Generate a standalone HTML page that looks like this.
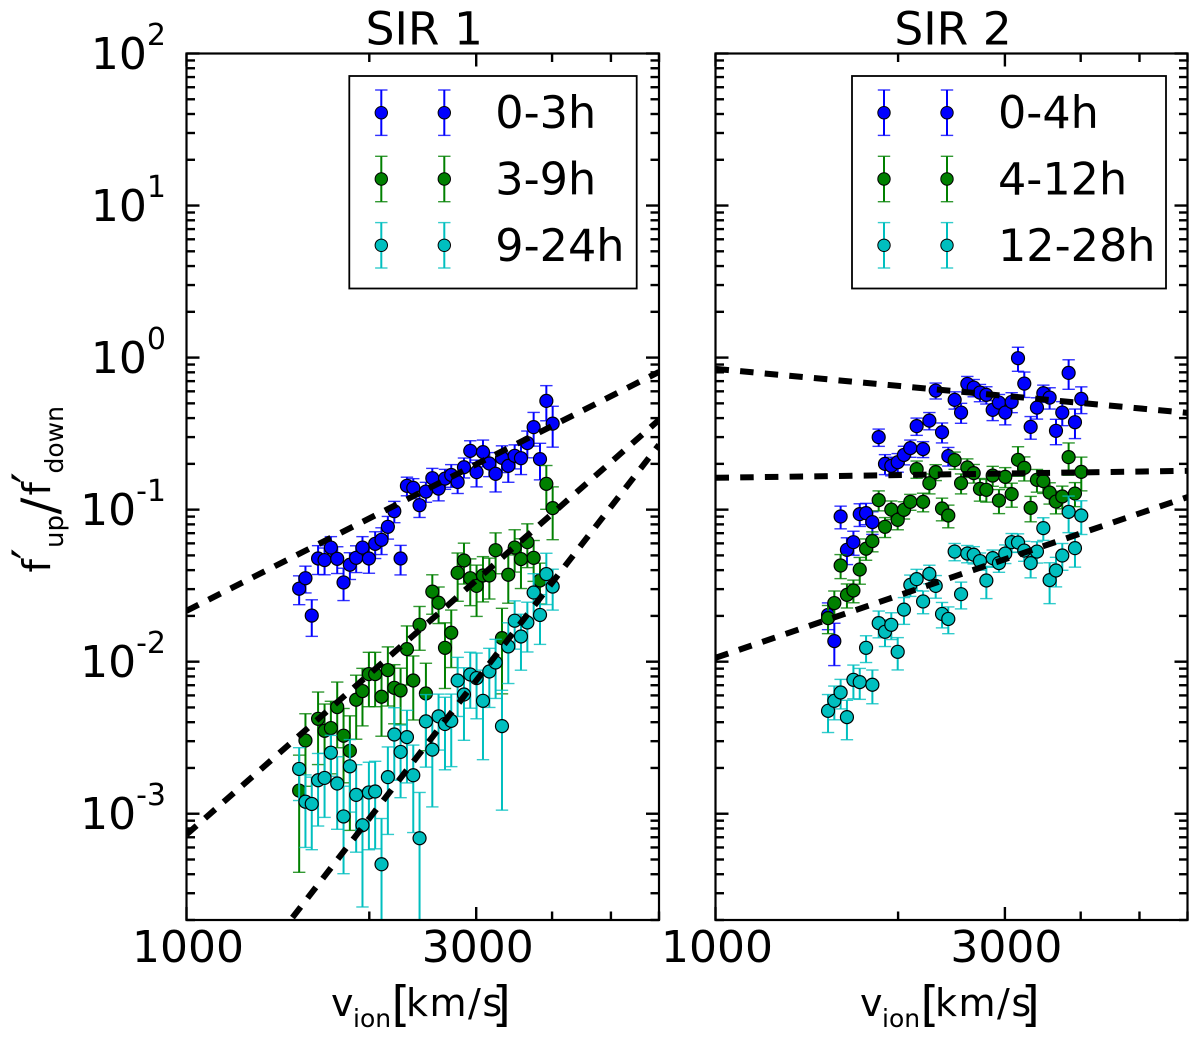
<!DOCTYPE html>
<html lang="en">
<head>
<meta charset="utf-8">
<title>SIR 1 and SIR 2 flux ratio versus ion velocity</title>
<style>
html,body{margin:0;padding:0;background:#fff;}
svg{display:block;font-family:"DejaVu Sans","Liberation Sans",sans-serif;}
text{fill:#000;}
</style>
</head>
<body>
<svg id="chart" xmlns="http://www.w3.org/2000/svg" width="1200" height="1038" viewBox="0 0 1200 1038">
<defs>
<clipPath id="clip-left"><rect x="186.5" y="53.5" width="472.5" height="866.5"/></clipPath>
<clipPath id="clip-right"><rect x="715.5" y="53.5" width="472" height="866.5"/></clipPath>
</defs>
<g id="panel-left"></g>
<g id="panel-right"></g>
<text transform="translate(50,572.5) rotate(-90)" font-size="38"><tspan x="0" y="0">f</tspan><tspan x="13" y="-2" font-size="50">′</tspan><tspan x="24.5" y="13" font-size="26">up</tspan><tspan x="58" y="7" font-size="50">/</tspan><tspan x="77" y="0">f</tspan><tspan x="89" y="-2" font-size="50">′</tspan><tspan x="99" y="13" font-size="25">down</tspan></text>
</svg>
<script>
const velocities = [1533,1570,1608,1647,1688,1729,1771,1814,1858,1903,1949,1997,2045,2095,2146,2199,2252,2307,2363,2420,2479,2540,2601,2665,2729,2796,2864,2933,3004,3078,3153,3229,3308,3388,3471,3555,3642,3730,3821,3914,4009];

const sir1Blue = [.0302,.0354,.0201,.0477,.0466,.0563,.0475,.0332,.0434,.0482,.0563,.0477,.0596,.0633,.0771,.0977,.0477,.1434,.139,.107,.1315,.161,.1376,.16,.169,.152,.19,.2436,.1764,.239,.201,.172,.219,.194,.226,.218,.274,.3487,.215,.519,.368];
const sir1BlueErr = [.215,.2,.27,.215,.2,.18,.2,.24,.2,.2,.18,.2,.2,.2,.17,.16,.22,.14,.15,.17,.15,.16,.17,.15,.17,.16,.15,.165,.2,.2,.18,.24,.2,.22,.18,.22,.2,.25,.27,.26,.3];
const sir1Green = [.00142,.00303,null,.00421,.00351,.00366,.00503,.00326,.00259,.00562,.00641,.00829,.00829,.00588,.00881,.00673,.00647,.0121,.00752,.01748,.00618,.0289,.0244,.01234,.0155,.0384,.0463,.0354,.0315,.0369,.0369,.0541,.01429,.0373,.0563,.0473,.0611,.0482,.0342,.1478,.1023];
const sir1GreenErr = [.71,.5,.5,.5,.5,.5,.46,.51,.7,.45,.41,.39,.39,.45,.42,.42,.4,.42,.45,.32,.58,.29,.27,.46,.41,.35,.3,.34,.37,.33,.3,.3,.57,.35,.31,.36,.32,.3,.3,.32,.38];
const sir1Teal = [.00197,.0012,.00116,.00166,.00172,.00252,.00158,.00096,.00205,.00133,.00084,.00138,.0014,.000465,.00174,.00332,.00255,.00319,.00179,.00069,.00405,.00264,.00437,.00389,.00408,.00752,.00608,.00824,.0078,.00553,.00862,.00988,.00377,.0126,.0186,.01465,.0181,.0285,.0203,.0377,.0312];
const sir1TealErr = [.38,.5,.5,.5,.45,.3,.5,.58,.5,.58,.71,.58,.58,1,.58,.5,.5,.5,.58,1,.5,.58,.4,.5,.5,.42,.5,.4,.46,.59,.42,.42,.72,.43,.35,.4,.36,.33,.36,.37,.3];

const sir2Blue = [.0203,.01366,.0901,.0544,.0611,.0934,.0948,.0828,.2997,.2,.194,.205,.229,.2538,.354,.25,.385,.607,.323,.225,.527,.435,.671,.635,.589,.569,.453,.506,.435,.511,.991,.675,.35,.469,.583,.546,.33,.435,.793,.376,.535];
const sir2BlueErr = [.2,.31,.17,.2,.18,.17,.16,.17,.13,.15,.14,.14,.14,.13,.13,.12,.13,.12,.15,.14,.13,.15,.12,.13,.13,.13,.15,.13,.17,.15,.18,.19,.17,.16,.13,.16,.19,.18,.22,.22,.2];
const sir2Green = [.01935,.0243,.0429,.0275,.0294,.0404,.0553,.0621,.1155,.0771,.1,.0857,.0997,.1125,.1847,.1125,.1493,.1764,.1017,.0915,.2116,.1493,.1892,.1738,.137,.135,.1675,.1148,.1643,.1265,.2125,.1883,.1027,.157,.154,.1295,.113,.122,.2214,.1276,.1772];
const sir2GreenErr = [.21,.2,.18,.18,.17,.2,.16,.15,.15,.15,.14,.14,.13,.12,.13,.14,.15,.12,.17,.17,.13,.15,.14,.14,.17,.17,.15,.18,.15,.18,.22,.18,.19,.17,.17,.16,.17,.17,.24,.18,.25];
const sir2Teal = [.00475,.00553,.00627,.00432,.0076,.00734,.01234,.00705,.01794,.01572,.01748,.01161,.022,.032,.0349,.0249,.0378,.0315,.0206,.0191,.053,.0278,.0514,.0505,.0459,.0342,.048,.0445,.0514,.0611,.0608,.0538,.0445,.053,.0756,.0344,.0398,.0499,.0967,.0558,.0915];
const sir2TealErr = [.28,.25,.22,.29,.25,.23,.2,.25,.2,.2,.2,.24,.2,.16,.16,.17,.14,.17,.19,.2,.13,.2,.13,.13,.13,.24,.13,.13,.14,.14,.14,.15,.2,.16,.17,.3,.22,.2,.27,.25,.25];

const fitVelocities = [1000,6000];
const sir1FitBlue = [.0216,.805];
const sir1FitGreen = [.00073,.389];
const sir1FitTeal = [.0000262,.267];
const sir2FitBlue = [.843,.433];
const sir2FitGreen = [.162,.18];
const sir2FitTeal = [.0106,.121];

const xMajorTicks = [1000,3000];
const xMinorTicks = [2000,4000,5000,6000];
const xTickLabels = ["1000","3000"];
const yMajorExponents = [2,1,0,-1,-2,-3];
const yMinorMultipliers = [2,3,4,5,6,7,8,9];
const legendLeft = ["0-3h","3-9h","9-24h"];
const legendRight = ["0-4h","4-12h","12-28h"];

const NS = "http://www.w3.org/2000/svg";
const BLUE = "#0000ff", GREEN = "#008000", TEAL = "#00bfbf";
const yTop = 53.5, yBottom = 920, X_MIN = 1000, X_MAX = 6000, Y_MIN = 2e-4, Y_MAX = 100;

function yScale(f){
  return yTop + (Math.log10(Y_MAX) - Math.log10(f)) / (Math.log10(Y_MAX) - Math.log10(Y_MIN)) * (yBottom - yTop);
}
function make(parent, tag, attrs){
  const el = document.createElementNS(NS, tag);
  for (const k in attrs) el.setAttribute(k, attrs[k]);
  parent.appendChild(el);
  return el;
}
function makeXScale(left, right){
  return v => left + (Math.log10(v) - Math.log10(X_MIN)) / (Math.log10(X_MAX) - Math.log10(X_MIN)) * (right - left);
}

function drawErrorMark(g, cx, cy, top, bottom, color){
  const bar = make(g, "line", {x1:cx, x2:cx, y1:top, y2:bottom, stroke:color, "stroke-width":2});
  
  
  [top, bottom].forEach(function(capY){
    const cap = make(g, "line", {x1:cx-6.2, x2:cx+6.2, y1:capY, y2:capY, stroke:color, "stroke-width":1.4, "stroke-opacity":0.8});
    
    
  });
}

function drawSeries(parent, x, vals, errs, color, name){
  const g = make(parent, "g", {});
  
  
  velocities.forEach(function(v, i){
    const f = vals[i];
    if (f === null) return;
    const lo = f * (1 - errs[i]);
    const top = yScale(f * (1 + errs[i]));
    const bottom = lo > 0 ? yScale(lo) : yBottom + 20;
    drawErrorMark(g, x(v), yScale(f), top, bottom, color);
  });
  velocities.forEach(function(v, i){
    const f = vals[i];
    if (f === null) return;
    const dot = make(g, "circle", {cx:x(v), cy:yScale(f), r:6.5, fill:color, stroke:"#000", "stroke-width":1.2});
    
    
  });
}

function drawFit(parent, x, vals, name){
  const ln = make(parent, "line", {
    x1:x(fitVelocities[0]), y1:yScale(vals[0]),
    x2:x(fitVelocities[1]), y2:yScale(vals[1]),
    stroke:"#000", "stroke-width":6, "stroke-dasharray":"13.5 11.2"
  });
  
  
}

function drawAxes(parent, x, left, right, showY){
  const tick = function(x1, y1, x2, y2, name){
    const t = make(parent, "line", {x1:x1, y1:y1, x2:x2, y2:y2, stroke:"#000", "stroke-width":2.4});
    
    
  };
  xMajorTicks.forEach(function(v){
    tick(x(v), yBottom, x(v), yBottom-13, 'x-major-tick');
    tick(x(v), yTop, x(v), yTop+13, 'x-major-tick-top');
  });
  xMinorTicks.forEach(function(v){
    tick(x(v), yBottom, x(v), yBottom-8.5, 'x-minor-tick');
    tick(x(v), yTop, x(v), yTop+8.5, 'x-minor-tick-top');
  });
  yMajorExponents.forEach(function(e){
    const y = yScale(Math.pow(10, e));
    tick(left, y, left+13, y, 'y-major-tick');
    tick(right, y, right-13, y, 'y-major-tick-right');
    yMinorMultipliers.forEach(function(m){
      const f = m * Math.pow(10, e);
      if (f < Y_MAX) {
        const ym = yScale(f);
        tick(left, ym, left+8.5, ym, 'y-minor-tick');
        tick(right, ym, right-8.5, ym, 'y-minor-tick-right');
      }
    });
  });
  [2,3,4,5,6,7,8,9].forEach(function(m){
    const f = m * 1e-4;
    if (f >= Y_MIN) {
      const ym = yScale(f);
      tick(left, ym, left+8.5, ym, 'y-minor-tick');
      tick(right, ym, right-8.5, ym, 'y-minor-tick-right');
    }
  });
  const frame = make(parent, "rect", {x:left, y:yTop, width:right-left, height:yBottom-yTop, fill:"none", stroke:"#000", "stroke-width":2.2});
  
  

  xMajorTicks.forEach(function(v, i){
    const t = make(parent, "text", {x:x(v)+1.5, y:962, "font-size":44, "text-anchor":"middle"});
    
    
    t.textContent = xTickLabels[i];
  });
  if (showY) {
    yMajorExponents.forEach(function(e){
      const y = yScale(Math.pow(10, e));
      const t = make(parent, "text", {x:166, y:y+15.5, "font-size":44, "text-anchor":"end"});
      
      
      const base = make(t, "tspan", {});
      base.textContent = "10";
      const sup = make(t, "tspan", {"font-size":30, dy:-24});
      sup.textContent = String(e);
    });
  }
}

function drawLegend(parent, boxX, boxW, labels, colors, name){
  const g = make(parent, "g", {});
  
  
  const box = make(g, "rect", {x:boxX, y:76, width:boxW, height:212.5, fill:"#fff", stroke:"#000", "stroke-width":1.8});
  
  
  [112.7, 179, 245.3].forEach(function(cy, i){
    [boxX+32, boxX+95].forEach(function(cx){
      drawErrorMark(g, cx, cy, cy-22.7, cy+22.7, colors[i]);
      const dot = make(g, "circle", {cx:cx, cy:cy, r:6.2, fill:colors[i], stroke:"#000", "stroke-width":1});
      
      
    });
    const t = make(g, "text", {x:boxX+146, y:cy+15.5, "font-size":44.5});
    
    
    t.textContent = labels[i];
  });
}

function drawPanel(panelId, clipId, left, right, seriesList, fits, title, legend, legendX, legendW, showY){
  const panel = document.getElementById(panelId);
  const x = makeXScale(left, right);
  const plot = make(panel, "g", {"clip-path":"url(#"+clipId+")"});
  
  
  seriesList.forEach(function(s){ drawSeries(plot, x, s[0], s[1], s[2], s[3]); });
  fits.forEach(function(s){ drawFit(plot, x, s[0], s[1]); });
  drawAxes(panel, x, left, right, showY);
  drawLegend(panel, legendX, legendW, legend, [BLUE, GREEN, TEAL], 'legend');
  const t = make(panel, "text", {x:(left+right)/2+1.5, y:44.5, "font-size":45.5, "text-anchor":"middle"});
  
  
  t.textContent = title;
  const xl = make(panel, "text", {y:1016, "font-size":38});
  
  
  const x0 = left + 144.5;
  const v = make(xl, "tspan", {x:x0, y:1016});
  v.textContent = "v";
  const sub = make(xl, "tspan", {x:x0+22, y:1027, "font-size":25});
  sub.textContent = "ion";
  const open = make(xl, "tspan", {x:x0+60.5, y:1020.5, "font-size":48});
  open.textContent = "[";
  const unit = make(xl, "tspan", {x:x0+75, y:1016, "letter-spacing":1.5});
  unit.textContent = "km/s";
  const close = make(xl, "tspan", {x:x0+161, y:1020.5, "font-size":48});
  close.textContent = "]";
}

drawPanel("panel-left", "clip-left", 186.5, 659,
  [[sir1Blue, sir1BlueErr, BLUE, 'series-0-3h'],
   [sir1Green, sir1GreenErr, GREEN, 'series-3-9h'],
   [sir1Teal, sir1TealErr, TEAL, 'series-9-24h']],
  [[sir1FitBlue, 'fit-line-0-3h'], [sir1FitGreen, 'fit-line-3-9h'], [sir1FitTeal, 'fit-line-9-24h']],
  "SIR 1", legendLeft, 349.3, 287.4, true);

drawPanel("panel-right", "clip-right", 715.5, 1187.5,
  [[sir2Blue, sir2BlueErr, BLUE, 'series-0-4h'],
   [sir2Green, sir2GreenErr, GREEN, 'series-4-12h'],
   [sir2Teal, sir2TealErr, TEAL, 'series-12-28h']],
  [[sir2FitBlue, 'fit-line-0-4h'], [sir2FitGreen, 'fit-line-4-12h'], [sir2FitTeal, 'fit-line-12-28h']],
  "SIR 2", legendRight, 852, 314, false);
</script>
</body>
</html>
